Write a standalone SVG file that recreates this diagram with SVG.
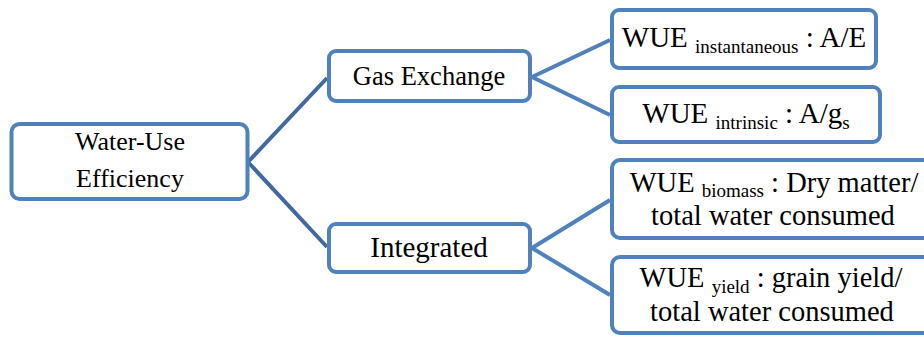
<svg xmlns="http://www.w3.org/2000/svg" width="924" height="338" viewBox="0 0 924 338">
<style>
.box{fill:#fff;stroke:#4F81BD;stroke-width:4}
.t{font-family:'Liberation Serif','Times New Roman',Times,'DejaVu Serif','Noto Serif',serif;fill:#000;text-anchor:middle}
.sub{font-size:19px}
.c1{stroke:#41699F;stroke-width:4;fill:none}
.c2{stroke:#4F81BD;stroke-width:4;fill:none}
</style>
<rect width="924" height="338" fill="#fff"/>
<g id="connectors">
<path class="c1" d="M248,162 L327,78 M248,162 L327,247"/>
<path class="c2" d="M532,77 L610,40 M532,77 L610,115 M532,248 L610,200 M532,248 L610,295"/>
</g>
<g id="wue">
<rect class="box" x="11.5" y="124" width="236" height="75" rx="8"/>
<text class="t" x="130" y="150" font-size="26">Water-Use</text>
<text class="t" x="130" y="187" font-size="26">Efficiency</text>
</g>
<g id="gas">
<rect class="box" x="329" y="51" width="201" height="50" rx="7"/>
<text class="t" x="429" y="85" font-size="26.5">Gas Exchange</text>
</g>
<g id="integrated">
<rect class="box" x="329" y="224" width="201" height="48" rx="7"/>
<text class="t" x="429" y="257" font-size="29">Integrated</text>
</g>
<g id="instantaneous">
<rect class="box" x="612" y="10" width="264" height="58" rx="7"/>
<text class="t" x="744" y="47" font-size="29">WUE <tspan class="sub" dy="6">instantaneous</tspan><tspan dy="-6"> : A/E</tspan></text>
</g>
<g id="intrinsic">
<rect class="box" x="612" y="87" width="268" height="55" rx="7"/>
<text class="t" x="746" y="123" font-size="29">WUE <tspan class="sub" dy="6">intrinsic</tspan><tspan dy="-6"> : A/g</tspan><tspan class="sub" dy="6">s</tspan></text>
</g>
<g id="biomass">
<rect class="box" x="612" y="160" width="326" height="78" rx="8"/>
<text class="t" x="774" y="192" font-size="28.5">WUE <tspan class="sub" dy="5">biomass</tspan><tspan dy="-5"> : Dry matter/</tspan></text>
<text class="t" x="773" y="225" font-size="28.5">total water consumed</text>
</g>
<g id="yield">
<rect class="box" x="612" y="257" width="326" height="76" rx="8"/>
<text class="t" x="771" y="287" font-size="28.5">WUE <tspan class="sub" dy="6">yield</tspan><tspan dy="-6"> : grain yield/</tspan></text>
<text class="t" x="772" y="321" font-size="28.5">total water consumed</text>
</g>
</svg>
